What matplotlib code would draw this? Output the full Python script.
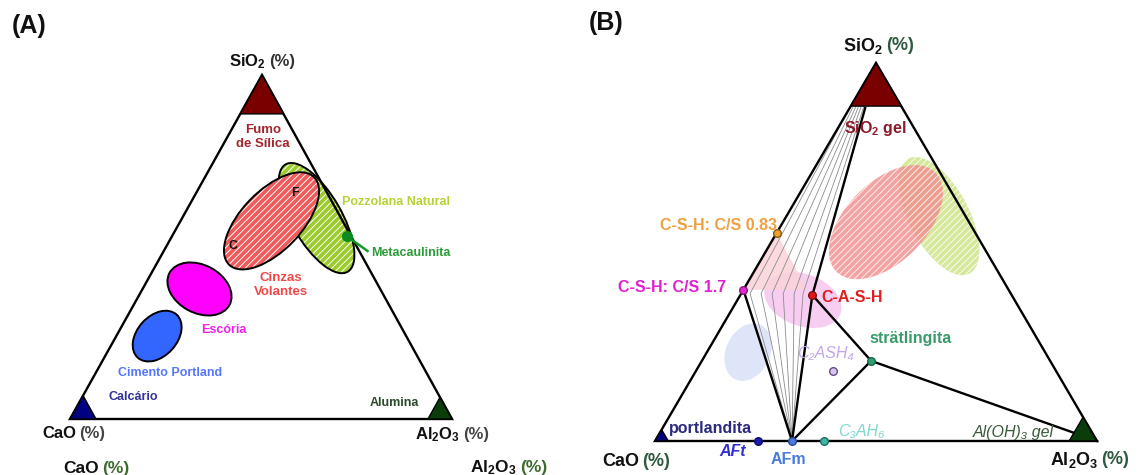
import matplotlib
matplotlib.use("Agg")
import matplotlib.pyplot as plt
from matplotlib.patches import Ellipse, Polygon
import numpy as np

plt.rcParams['font.family'] = ['Liberation Sans', 'DejaVu Sans']
plt.rcParams['mathtext.fontset'] = 'custom'
plt.rcParams['mathtext.rm'] = 'Liberation Sans:bold'
plt.rcParams['mathtext.bf'] = 'Liberation Sans:bold'
plt.rcParams['mathtext.it'] = 'Liberation Sans:italic'
plt.rcParams['hatch.linewidth'] = 0.7

# ---------------- data: compositions as (SiO2, Al2O3) fractions, CaO = rest
# Panel A - raw materials
a_names = ["Cimento Portland", "Escória", "Cinzas Volantes", "Pozzolana Natural"]
a_sio2 = [0.241, 0.378, 0.576, 0.584]
a_al2o3 = [0.107, 0.149, 0.238, 0.352]
meta_sio2, meta_al2o3 = 0.532, 0.4565          # Metacaulinita

# Panel B - shaded material regions
b_names = ["Cimento Portland", "C-A-S-H", "Pozzolana Natural", "Cinzas Volantes"]
b_sio2 = [0.235, 0.373, 0.595, 0.579]
b_al2o3 = [0.093, 0.148, 0.345, 0.233]

# Panel B - hydrate phases
phase_names = ["C-S-H: C/S 0.83", "C-S-H: C/S 1.7", "C-A-S-H", "strätlingita",
               "C₂ASH₄", "AFt", "AFm", "C₃AH₆"]
phase_sio2 = [0.55, 0.40, 0.386, 0.212, 0.185, 0.0, 0.0, 0.0]
phase_al2o3 = [0.0, 0.0, 0.163, 0.383, 0.311, 0.233, 0.31, 0.382]

# C-(A)-S-H tie-line compositions (SiO2 gel -> C-A-S-H -> AFm)
tie_top_al2o3 = [0.0, 0.006, 0.012, 0.018, 0.024, 0.03]
tie_mid_al2o3 = [0.02, 0.045, 0.07, 0.095, 0.12, 0.14]
tie_mid_sio2 = 0.39
gel_sio2 = 0.885

# ---------------- layout
TRI_A = {"top": (262, 75), "left": (70, 419), "right": (452, 419)}
TRI_B = {"top": (876, 63), "left": (655, 441), "right": (1097, 441)}


def tern(tri, s, a):
    c = 1.0 - s - a
    x = c * tri["left"][0] + a * tri["right"][0] + s * tri["top"][0]
    y = c * tri["left"][1] + a * tri["right"][1] + s * tri["top"][1]
    return x, y


fig = plt.figure(figsize=(11.4, 4.75), dpi=100)
ax = fig.add_axes([0, 0, 1, 1])
ax.set_xlim(0, 1140)
ax.set_ylim(475, 0)
ax.axis("off")


def outline(tri, lw=1.7):
    pts = [tri["left"], tri["right"], tri["top"]]
    ax.add_patch(Polygon(pts, closed=True, fill=False, ec="black", lw=lw,
                         joinstyle="miter", zorder=6))


def corner(tri, key, f, color):
    v = np.array(tri[key], float)
    others = [np.array(tri[k], float) for k in ("top", "left", "right") if k != key]
    pts = [v, v + (others[0] - v) * f, v + (others[1] - v) * f]
    ax.add_patch(Polygon(pts, closed=True, fc=color, ec="black", lw=1.0, zorder=7))


def ellipse(xy, w, h, ang, fc, hatch=None, hatch_c="white", edge=None,
            alpha=1.0, z=2):
    ax.add_patch(Ellipse(xy, w, h, angle=-ang, fc=fc, ec=hatch_c if hatch else "none",
                         lw=0, hatch=hatch, alpha=alpha, zorder=z))
    if edge:
        ax.add_patch(Ellipse(xy, w, h, angle=-ang, fill=False, ec=edge, lw=1.4,
                             zorder=z + 0.1))


def axis_label(split, yc, main, pct_color, size):
    px = size * 100 / 72
    yb = yc + 0.36 * px
    ax.text(split - 1, yb, main, ha="right", va="baseline", fontsize=size,
            fontweight="bold", color="#111111", zorder=10)
    ax.text(split + 2, yb, "(%)", ha="left", va="baseline", fontsize=size,
            fontweight="bold", color=pct_color, zorder=10)


def label(x, y, s, color, size=9, weight="bold", style="normal", ha="center"):
    ax.text(x, y, s, ha=ha, va="center", fontsize=size, fontweight=weight,
            fontstyle=style, color=color, zorder=10, linespacing=1.15)


# ================= Panel A =================
ellipse(tern(TRI_A, a_sio2[3], a_al2o3[3]), 124, 50, -60, "#9ccc2c",
        hatch="/////", edge="black", z=2)
ellipse(tern(TRI_A, a_sio2[2], a_al2o3[2]), 122, 60, 46, "#f05a5a",
        hatch="/////", edge="black", z=3)
ellipse(tern(TRI_A, a_sio2[1], a_al2o3[1]), 68, 48, -28, "#ff00ff", edge="black", z=3)
ellipse(tern(TRI_A, a_sio2[0], a_al2o3[0]), 58, 40, 48, "#3366ff", edge="black", z=3)

outline(TRI_A)
corner(TRI_A, "top", 0.113, "#7a0000")
corner(TRI_A, "left", 0.068, "#000080")
corner(TRI_A, "right", 0.063, "#0b3d0b")

mx, my = tern(TRI_A, meta_sio2, meta_al2o3)
ax.plot([mx, mx + 21], [my, my + 15], color="#159a2a", lw=1.8, zorder=8)
ax.plot(mx, my, "o", ms=7, color="#0e8a22", zorder=9)

label(29, 26, "(A)", "#111111", size=18)
axis_label(267, 60, r"SiO$_2$", "#333333", 12)
axis_label(77.5, 432, "CaO", "#444444", 12)
axis_label(461, 433, r"Al$_2$O$_3$", "#444444", 12)
axis_label(100, 467, "CaO", "#3d6b2e", 12.5)
axis_label(518, 466, r"Al$_2$O$_3$", "#3d6b2e", 12.5)

label(263, 137, "Fumo\nde Sílica", "#a3252f", size=9.5)
label(295, 193, "F", "#111111")
label(233, 246, "C", "#111111")
label(396, 202, "Pozzolana Natural", "#b5d334")
label(411, 253, "Metacaulinita", "#2e9a3a")
label(281, 285, "Cinzas\nVolantes", "#f04848", size=9.5)
label(224, 330, "Escória", "#ee22ee")
label(170, 373, "Cimento Portland", "#5577ff")
label(133, 397, "Calcário", "#333399")
label(394, 403, "Alumina", "#2a4a2a")

# ================= Panel B =================
ellipse(tern(TRI_B, b_sio2[0], b_al2o3[0]), 60, 44, 65, "#dfe5f8", z=1)
ellipse(tern(TRI_B, b_sio2[2], b_al2o3[2]), 130, 60, -62, "#cfe48a",
        hatch="/////", alpha=0.85, z=1)
ellipse(tern(TRI_B, b_sio2[3], b_al2o3[3]), 140, 80, 45, "#f28c8c",
        hatch="/////", alpha=0.8, z=1.2)
ellipse(tern(TRI_B, b_sio2[1], b_al2o3[1]), 80, 52, -20, "#f6c2ef", alpha=0.8, z=1.3)

# C-S-H composition triangle
pts = [tern(TRI_B, phase_sio2[0], phase_al2o3[0]),
       tern(TRI_B, phase_sio2[1], phase_al2o3[1]),
       tern(TRI_B, phase_sio2[1], 0.144)]
ax.add_patch(Polygon(pts, closed=True, fc="#fbd3da", ec="none", alpha=0.85, zorder=1.4))

# tie lines
afm = tern(TRI_B, phase_sio2[6], phase_al2o3[6])
for ta, ma in zip(tie_top_al2o3, tie_mid_al2o3):
    p0 = tern(TRI_B, gel_sio2, ta)
    p1 = tern(TRI_B, tie_mid_sio2, ma)
    ax.plot([p0[0], p1[0], afm[0]], [p0[1], p1[1], afm[1]], color="#8c8c8c",
            lw=0.6, zorder=3)

# phase boundaries
csh17 = tern(TRI_B, phase_sio2[1], phase_al2o3[1])
cash = tern(TRI_B, phase_sio2[2], phase_al2o3[2])
strat = tern(TRI_B, phase_sio2[3], phase_al2o3[3])
gel = tern(TRI_B, 0.881, 0.035)
al_v = TRI_B["right"]
for seg in ([csh17, afm], [gel, cash, afm], [cash, strat, al_v], [strat, afm]):
    xs, ys = zip(*seg)
    ax.plot(xs, ys, color="black", lw=1.7, zorder=5, solid_joinstyle="round")

outline(TRI_B)
corner(TRI_B, "top", 0.114, "#7a0000")
corner(TRI_B, "left", 0.03, "#000080")
corner(TRI_B, "right", 0.063, "#0b3d0b")

dot_face = ["#f0a030", "#ee22dd", "#e01818", "#2aa070", "#d6c8f0", "#1a1ab0",
            "#4a7ae0", "#40b8a8"]
dot_edge = ["#8a5a10", "#802070", "#801010", "#1a6a4a", "#6a4a8a", "#101060",
            "#2a4a90", "#206a60"]
for s, a, fcol, ecol in zip(phase_sio2, phase_al2o3, dot_face, dot_edge):
    x, y = tern(TRI_B, s, a)
    ax.plot(x, y, "o", ms=5.5, mfc=fcol, mec=ecol, mew=1.0, zorder=9)

label(606, 23, "(B)", "#111111", size=18)
axis_label(884, 44, r"SiO$_2$", "#2f5a3f", 13)
axis_label(640, 459, "CaO", "#2f5a3f", 13)
axis_label(1099, 458, r"Al$_2$O$_3$", "#2f5a3f", 13)

label(875, 129, r"SiO$_2$ gel", "#8b1a2a", size=11.5)
label(777, 225, phase_names[0], "#f0a040", size=11.5, ha="right")
label(726, 287, phase_names[1], "#e020d0", size=11.5, ha="right")
label(821, 297, phase_names[2], "#e02020", size=11.5, ha="left")
label(911, 339, phase_names[3], "#3a9a6a", size=11.5)
label(825, 354, phase_names[4], "#c0a8e8", size=11.5, weight="normal", style="italic")
label(861, 432, phase_names[7], "#7fd8d0", size=11.5, weight="normal", style="italic")
label(1013, 432, "Al(OH)₃ gel", "#3a5a3a", size=11.5, weight="normal", style="italic")
label(710, 428, "portlandita", "#2a2a80", size=11.5)
label(733, 451, phase_names[5], "#3030d0", size=11.5, style="italic")
label(788, 459, phase_names[6], "#4a7ae0", size=11.5)

fig.savefig("out.png", dpi=100, facecolor="white")
